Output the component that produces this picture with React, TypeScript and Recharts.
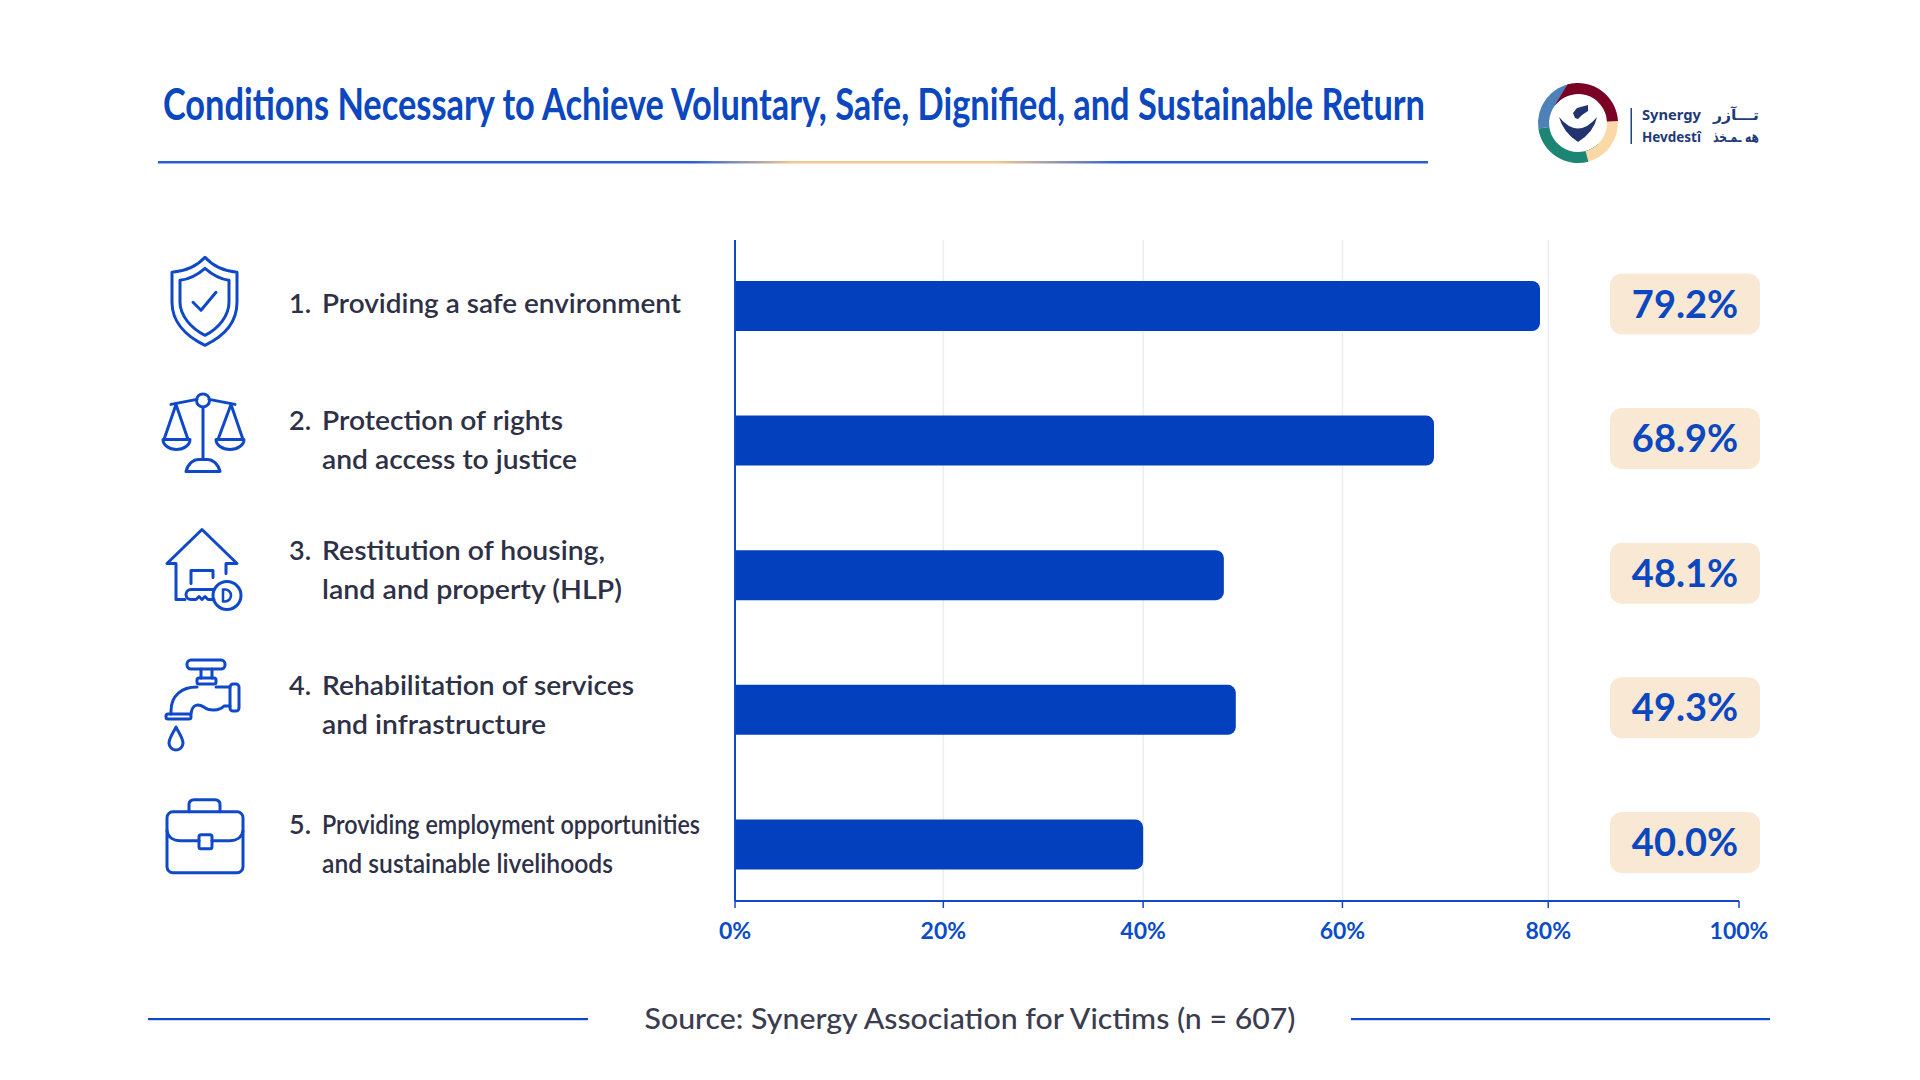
import React from 'react';
import { BarChart, Bar, XAxis, YAxis, CartesianGrid, LabelList } from 'recharts';

const categories = [
  'Providing a safe environment',
  'Protection of rights and access to justice',
  'Restitution of housing, land and property (HLP)',
  'Rehabilitation of services and infrastructure',
  'Providing employment opportunities and sustainable livelihoods',
];
const values = [79.2, 68.9, 48.1, 49.3, 40.0];
const tickValues = [0, 20, 40, 60, 80, 100];
const gridValues = [20, 40, 60, 80];
// where each axis tick sits along the axis line, in percent of its length (the reference's ticks are uneven)
const tickPlacement = [0, 20.75, 40.65, 60.5, 81, 100];

const labelLines = [
  ['Providing a safe environment'],
  ['Protection of rights', 'and access to justice'],
  ['Restitution of housing,', 'land and property (HLP)'],
  ['Rehabilitation of services', 'and infrastructure'],
  ['Providing employment opportunities', 'and sustainable livelihoods'],
];
const labelWidths = [[359], [241, 255], [283, 300], [312, 224], [378, 291]];
const labelOffsets = [-3, -1, -5, -5, -1];

const BLUE = '#0340BE';
const LINE = '#1049C8';
const INK = '#2E3046';
const TEXT_FONT = 'Lato, "Noto Sans", sans-serif';

const tableRows = categories.map((category, i) => ({ category, value: values[i] }));

function unevenScale(domain = [0, 100], range = [0, 1]) {
  let d = domain;
  let r = range;
  const place = (v) => {
    for (let i = 1; i < tickValues.length; i++) {
      if (v <= tickValues[i]) {
        const t = (v - tickValues[i - 1]) / (tickValues[i] - tickValues[i - 1]);
        return tickPlacement[i - 1] + t * (tickPlacement[i] - tickPlacement[i - 1]);
      }
    }
    return 100;
  };
  const s = (v) => r[0] + ((r[1] - r[0]) * place(v)) / 100;
  s.domain = (a) => (a ? ((d = a), s) : d);
  s.range = (a) => (a ? ((r = a), s) : r);
  s.copy = () => unevenScale(d, r);
  s.ticks = () => tickValues;
  s.tickFormat = () => (v) => String(v);
  s.bandwidth = () => 0;
  return s;
}

const iconStroke = { fill: 'none', stroke: LINE, strokeWidth: 3, strokeLinejoin: 'round', strokeLinecap: 'round' };

const icons = [
  <g {...iconStroke}>
    <path d="M1 -48 C10 -38 22 -34 33 -33 V-3 C33 15 22 30 1 40 C-20 30 -32 15 -32 -3 V-33 C-20 -34 -8 -38 1 -48Z" />
    <path d="M1 -37 C9 -30 18 -26 25 -25 V-3 C25 10 15 23 1 30 C-13 23 -24 10 -24 -3 V-25 C-16 -26 -7 -30 1 -37Z" />
    <path d="M-11 -3 L-3 5 L12 -13" />
  </g>,
  <g {...iconStroke}>
    <circle cx={-1} cy={-39} r={6.5} />
    <path d="M-33 -35 L-7 -40 M5 -40 L31 -35 M-1 -32 V20" />
    <path d="M-18 32 C-16 24 -10 20 -6 20 H4 C8 20 14 24 16 32 Z" />
    <path d="M-41 0 H-14 A13.5 10 0 0 1 -41 0 Z M-28 -35 L-40 0 M-28 -35 L-16 0" />
    <path d="M12 0 H40 A14 10 0 0 1 12 0 Z M27 -35 L14 0 M27 -35 L39 0" />
  </g>,
  <g {...iconStroke}>
    <path d="M-19 24 H-28 V-12 H-37 L-2 -46 L33 -12 H22 V-2" />
    <path d="M-13 8 V-5 H9 V2" />
    <circle cx={23} cy={20} r={14} />
    <path d="M10 14 H-13 A5 5 0 0 0 -13 24 L-8 24 L-5 21 L-2 24 L1 21 L4 24 H10" />
    <path d="M19 14 V26 H21 A6 6 0 0 0 21 14 Z" strokeWidth={2.5} />
  </g>,
  <g {...iconStroke}>
    <rect x={-17} y={-49} width={38} height={9} rx={4} />
    <path d="M-3 -40 V-31 M8 -40 V-31" />
    <rect x={-7} y={-31} width={19} height={6} rx={2} />
    <rect x={26} y={-25} width={9} height={27} rx={3} />
    <path d="M-7 -22 C-22 -22 -33 -14 -33 2 V5" />
    <path d="M12 -22 H26 M-13 5 C-12 -6 -5 -5 0 -2 C5 2 15 2 20 -3 H26" />
    <rect x={-38} y={5} width={25} height={5} rx={2} />
    <path d="M-28 18 C-31 24 -35 29 -35 34 A7 7 0 0 0 -21 34 C-21 29 -25 24 -28 18 Z" />
  </g>,
  <g {...iconStroke}>
    <path d="M-15 -33 V-40 Q-15 -45 -10 -45 H11 Q16 -45 16 -40 V-33" />
    <rect x={-37} y={-33} width={76} height={61} rx={6} />
    <path d="M-37 -14 C-36 -7 -30 -4 -24 -4 H-5 M8 -4 H26 C32 -4 38 -7 39 -14" />
    <rect x={-5} y={-10} width={13} height={14} rx={2} />
  </g>,
];
const iconOffsets = [-1, -1.5, 0, -1, 0];

function CategoryTick(props) {
  const i = categories.indexOf(props.payload.value);
  const cy = props.y;
  const lines = labelLines[i];
  const step = 39;
  const first = cy + labelOffsets[i] - ((lines.length - 1) * step) / 2;
  return (
    <g>
      <g transform={`translate(204 ${cy + iconOffsets[i]})`}>{icons[i]}</g>
      <text x={289} y={first} dy="0.35em" fontFamily={TEXT_FONT} fontSize={27} fontWeight={600} fill={INK}>
        {i + 1}.
      </text>
      {lines.map((line, k) => (
        <text
          key={line}
          x={322}
          y={first + k * step}
          dy="0.35em"
          fontFamily={TEXT_FONT}
          fontSize={27}
          fontWeight={600}
          fill={INK}
          textLength={labelWidths[i][k]}
          lengthAdjust="spacingAndGlyphs"
        >
          {line}
        </text>
      ))}
    </g>
  );
}

function ValuePill(props) {
  const cy = props.y + props.height / 2 - 2;
  return (
    <g>
      <rect x={1610} y={cy - 30.5} width={150} height={61} rx={12} fill="#F8E8D4" />
      <text x={1685} y={cy} dy="0.36em" textAnchor="middle" fontFamily={TEXT_FONT} fontSize={38} fontWeight={700} fill="#0B47BF">
        {Number(props.value).toFixed(1)}%
      </text>
    </g>
  );
}

const LOGO = { cx: 1578, cy: 123, R: 40, r: 29 };
function pt(deg, rad) {
  const a = (deg * Math.PI) / 180;
  return `${LOGO.cx + rad * Math.sin(a)} ${LOGO.cy - rad * Math.cos(a)}`;
}
function swirl(a, b, back) {
  const { R, r } = LOGO;
  return `M${pt(a, R)} A${R} ${R} 0 0 1 ${pt(b, R)} L${pt(b, r)} A${r} ${r} 0 0 0 ${pt(a - back, r)} Z`;
}

const TITLE_SQUEEZE = 0.8;

function Decor() {
  return (
    <svg width={1920} height={1080} style={{ position: 'absolute', left: 0, top: 0 }}>
      <defs>
        <linearGradient id="rule" x1="0" x2="1" y1="0" y2="0">
          <stop offset="0" stopColor="#2A5FD2" />
          <stop offset="0.42" stopColor="#2A5FD2" />
          <stop offset="0.5" stopColor="#F5C88E" />
          <stop offset="0.66" stopColor="#F5C88E" />
          <stop offset="0.76" stopColor="#2A5FD2" />
          <stop offset="1" stopColor="#2A5FD2" />
        </linearGradient>
      </defs>
      <g transform={`translate(163 120) scale(${TITLE_SQUEEZE} 1)`}>
        <text x={0} y={0} fontFamily={TEXT_FONT} fontSize={44} fontWeight={700} fill="#0B47BF" textLength={1262 / TITLE_SQUEEZE} lengthAdjust="spacingAndGlyphs">
          Conditions Necessary to Achieve Voluntary, Safe, Dignified, and Sustainable Return
        </text>
      </g>
      <rect x={158} y={161} width={1270} height={2.5} fill="url(#rule)" />

      <path d={swirl(262, 352, 0)} fill="#4F81B9" />
      <path d={swirl(165, 262, 30)} fill="#1C8574" />
      <path d={swirl(85, 165, 30)} fill="#FAD9A6" />
      <path d={swirl(345, 447, 40)} fill="#7A0026" />
      <path d="M1559 117 Q1578 140 1597 117 Q1594 132 1578 142 Q1563 132 1559 117 Z" fill="#22336F" />
      <path d="M1573 113 L1577 108 L1588 105 L1588 111 L1582 115 L1578 119 L1575 118 Z" fill="#22336F" />
      <rect x={1630.5} y={108} width={1.5} height={36} fill="#22457F" />
      <text x={1642} y={115} dy="0.35em" fontFamily='"Noto Sans", sans-serif' fontSize={14.5} fontWeight={700} fill="#1F3A78" textLength={59} lengthAdjust="spacingAndGlyphs">Synergy</text>
      <text x={1642} y={137} dy="0.35em" fontFamily='"Noto Sans", sans-serif' fontSize={14.5} fontWeight={700} fill="#1F3A78" textLength={59} lengthAdjust="spacingAndGlyphs">Hevdestî</text>
      <text x={1713} y={115} dy="0.35em" fontFamily='"DejaVu Sans", sans-serif' fontSize={15} fontWeight={700} fill="#1F3A78" textLength={46} lengthAdjust="spacingAndGlyphs">تـــآزر</text>
      <text x={1713} y={137} dy="0.35em" fontFamily='"DejaVu Sans", sans-serif' fontSize={15} fontWeight={700} fill="#1F3A78" textLength={46} lengthAdjust="spacingAndGlyphs">هه ـمـخذ</text>

      <rect x={148} y={1018} width={440} height={2.2} fill={LINE} />
      <rect x={1351} y={1018} width={419} height={2.2} fill={LINE} />
      <text x={970} y={1019} dy="0.35em" textAnchor="middle" fontFamily={TEXT_FONT} fontSize={29} fontWeight={500} fill="#3B3D4F" textLength={651} lengthAdjust="spacingAndGlyphs">
        Source: Synergy Association for Victims (n = 607)
      </text>
    </svg>
  );
}

export default function App() {
  return (
    <div style={{ position: 'absolute', left: 0, top: 0, width: 1920, height: 1080, background: '#FFFFFF', overflow: 'hidden' }}>
      <Decor />
      <div style={{ position: 'absolute', left: 0, top: 0 }}>
        <BarChart
          width={1920}
          height={1080}
          layout="vertical"
          data={tableRows}
          margin={{ top: 240, right: 181, bottom: 119, left: 0 }}
        >
          <CartesianGrid horizontal={false} vertical verticalValues={gridValues} stroke="#ECEDF1" strokeWidth={1.5} />
          <XAxis
            type="number"
            dataKey="value"
            domain={[0, 100]}
            scale={unevenScale()}
            ticks={tickValues}
            interval={0}
            height={60}
            tickFormatter={(v) => `${v}%`}
            axisLine={{ stroke: LINE, strokeWidth: 2.2 }}
            tickLine={{ stroke: LINE, strokeWidth: 1.5 }}
            tickSize={7}
            tickMargin={15}
            tick={{ fill: '#0B4CC8', fontSize: 23, fontWeight: 700, fontFamily: TEXT_FONT }}
          />
          <YAxis
            type="category"
            dataKey="category"
            width={735}
            interval={0}
            padding={{ top: -1, bottom: -11 }}
            axisLine={{ stroke: LINE, strokeWidth: 2 }}
            tickLine={false}
            tick={<CategoryTick />}
          />
          <Bar dataKey="value" fill={BLUE} barSize={50} radius={[0, 8, 8, 0]} isAnimationActive={false}>
            <LabelList dataKey="value" content={<ValuePill />} />
          </Bar>
        </BarChart>
      </div>
    </div>
  );
}
